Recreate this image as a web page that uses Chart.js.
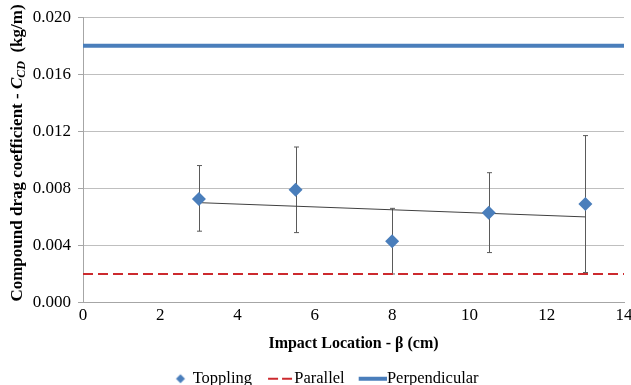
<!DOCTYPE html>
<html>
<head>
<meta charset="utf-8">
<script src="https://cdn.jsdelivr.net/npm/chart.js@4"></script>
<style>
  html, body { margin: 0; padding: 0; background: #fff; }
  #wrap { width: 631px; height: 385px; }
</style>
</head>
<body>
<div id="wrap"><canvas id="drag-chart" width="631" height="385"></canvas></div>
<script>
// impact locations (cm) and measured drag coefficients
const impactX = [3, 5.5, 8, 10.5, 13];
const toppling = [0.00725, 0.0079, 0.0043, 0.0063, 0.0069];
const errLow = [0.0050, 0.0049, 0.0020, 0.0035, 0.0021];
const errHigh = [0.0096, 0.0109, 0.0066, 0.0091, 0.0117];

// linear trend of the toppling points
const trendX = [3, 13];
const trendY = [0.0070, 0.0060];

// reference levels
const lineX = [0, 14];
const parallelLevel = 0.002;
const perpendicularLevel = 0.018;

const xTicks = [0, 2, 4, 6, 8, 10, 12, 14];
const yTicks = [0, 0.004, 0.008, 0.012, 0.016, 0.020];

const FONT = "'Liberation Serif', 'Times New Roman', serif";
const BLUE = '#4a7ebb';
const RED = '#cc2a2e';

// small canvases used as legend symbols (38 wide, centred on a 22px box)
function legendSymbol(draw) {
    const c = document.createElement('canvas');
    c.width = 38;
    c.height = 12;
    const g = c.getContext('2d');
    draw(g);
    return c;
}
const symToppling = legendSymbol(g => {
    g.fillStyle = BLUE;
    g.beginPath();
    g.moveTo(26, 1.5); g.lineTo(30.5, 6); g.lineTo(26, 10.5); g.lineTo(21.5, 6);
    g.closePath();
    g.fill();
});
const symParallel = legendSymbol(g => {
    g.strokeStyle = RED;
    g.lineWidth = 2;
    g.setLineDash([10, 4]);
    g.beginPath();
    g.moveTo(12, 6); g.lineTo(38, 6);
    g.stroke();
});
const symPerp = legendSymbol(g => {
    g.strokeStyle = BLUE;
    g.lineWidth = 4;
    g.beginPath();
    g.moveTo(10, 6); g.lineTo(38, 6);
    g.stroke();
});
const legendSymbols = { Toppling: symToppling, Parallel: symParallel, Perpendicular: symPerp };

// error bars drawn from the scales
const errorBars = {
    id: 'errorBars',
    beforeDatasetsDraw(chart) {
        const { ctx, scales: { x, y } } = chart;
        ctx.save();
        ctx.strokeStyle = '#5a5a5a';
        ctx.lineWidth = 1;
        impactX.forEach((v, i) => {
            const px = Math.round(x.getPixelForValue(v)) + 0.5;
            const top = y.getPixelForValue(errHigh[i]);
            const bot = y.getPixelForValue(errLow[i]);
            ctx.beginPath();
            ctx.moveTo(px, top); ctx.lineTo(px, bot);
            ctx.moveTo(px - 2.5, top); ctx.lineTo(px + 2.5, top);
            ctx.moveTo(px - 2.5, bot); ctx.lineTo(px + 2.5, bot);
            ctx.stroke();
        });
        ctx.restore();
    }
};

// y axis title with italic C and subscript CD
const yTitle = {
    id: 'yTitle',
    afterDraw(chart) {
        const { ctx } = chart;
        const parts = [
            { t: 'Compound drag coefficient - ', f: `bold 17px ${FONT}`, dy: 0 },
            { t: 'C', f: `italic bold 17px ${FONT}`, dy: 0 },
            { t: 'CD', f: `italic bold 12px ${FONT}`, dy: 4 },
            { t: '  (kg/m)', f: `bold 17px ${FONT}`, dy: 0 }
        ];
        let total = 0;
        parts.forEach(p => { ctx.font = p.f; p.w = ctx.measureText(p.t).width; total += p.w; });
        ctx.save();
        ctx.translate(18, 153);
        ctx.rotate(-Math.PI / 2);
        ctx.fillStyle = '#000';
        ctx.textBaseline = 'middle';
        let cx = -total / 2;
        parts.forEach(p => {
            ctx.font = p.f;
            ctx.fillText(p.t, cx, p.dy);
            cx += p.w;
        });
        ctx.restore();
    }
};

new Chart(document.getElementById('drag-chart'), {
    type: 'scatter',
    data: {
        datasets: [
            {
                label: 'Toppling',
                data: impactX.map((v, i) => ({ x: v, y: toppling[i] })),
                pointStyle: 'rectRot',
                pointRadius: 7,
                backgroundColor: BLUE,
                borderColor: BLUE,
                borderWidth: 0,
                order: 0
            },
            {
                label: 'Parallel',
                type: 'line',
                data: lineX.map(v => ({ x: v, y: parallelLevel })),
                borderColor: RED,
                borderWidth: 2,
                borderDash: [10, 5],
                pointRadius: 0,
                order: 2
            },
            {
                label: 'Perpendicular',
                type: 'line',
                data: lineX.map(v => ({ x: v, y: perpendicularLevel })),
                borderColor: BLUE,
                borderWidth: 4,
                pointRadius: 0,
                order: 2
            },
            {
                label: 'trend',
                type: 'line',
                data: trendX.map((v, i) => ({ x: v, y: trendY[i] })),
                borderColor: '#404040',
                borderWidth: 1,
                pointRadius: 0,
                order: 1
            }
        ]
    },
    options: {
        responsive: false,
        animation: false,
        layout: { padding: { left: 10, right: 0, top: 3, bottom: -12 } },
        plugins: {
            tooltip: { enabled: false },
            legend: {
                position: 'bottom',
                labels: {
                    usePointStyle: true,
                    pointStyleWidth: 22,
                    padding: 12,
                    color: '#000',
                    font: { family: FONT, size: 16.5 },
                    generateLabels: chart => chart.data.datasets
                        .filter(ds => legendSymbols[ds.label])
                        .map(ds => ({
                            text: ds.label,
                            pointStyle: legendSymbols[ds.label],
                            fillStyle: 'transparent',
                            strokeStyle: 'transparent',
                            lineWidth: 0,
                            fontColor: '#000'
                        }))
                }
            }
        },
        scales: {
            x: {
                type: 'linear',
                min: 0,
                max: 14,
                afterBuildTicks: s => { s.ticks = xTicks.map(v => ({ value: v })); },
                afterFit: s => { s.height = 56; },
                grid: { display: false, drawTicks: true, tickLength: 5, tickColor: '#a6a6a6' },
                border: { display: true, color: '#a6a6a6' },
                ticks: { color: '#000', font: { family: FONT, size: 17 }, padding: -2 },
                title: {
                    display: true,
                    text: 'Impact Location - β (cm)',
                    color: '#000',
                    font: { family: FONT, size: 16, weight: 'bold' },
                    padding: { top: 8, bottom: 5 }
                }
            },
            y: {
                min: 0,
                max: 0.02,
                afterBuildTicks: s => { s.ticks = yTicks.map(v => ({ value: v })); },
                afterFit: s => { s.width = 73; },
                grid: { color: '#bfbfbf', tickLength: 5, tickColor: '#a6a6a6' },
                border: { display: true, color: '#a6a6a6' },
                ticks: {
                    color: '#000',
                    font: { family: FONT, size: 17 },
                    padding: 7,
                    callback: v => v.toFixed(3)
                }
            }
        }
    },
    plugins: [errorBars, yTitle]
});
</script>
</body>
</html>
